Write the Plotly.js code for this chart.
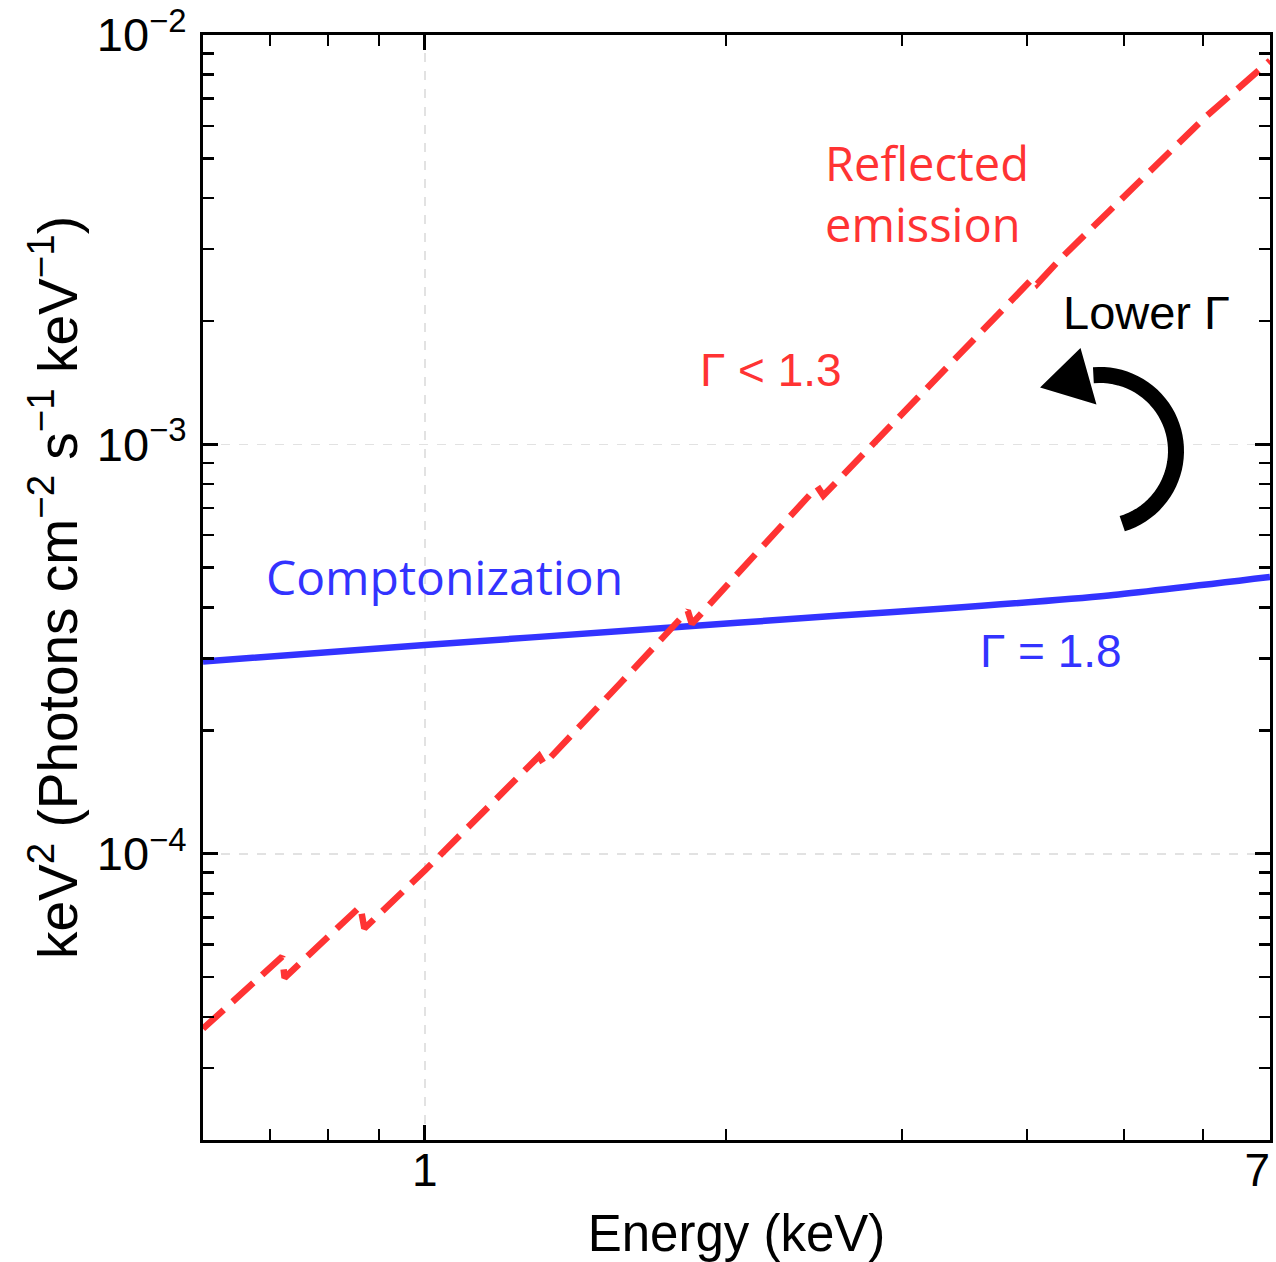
<!DOCTYPE html>
<html>
<head>
<meta charset="utf-8">
<script src="https://cdn.plot.ly/plotly-3.0.1.min.js"></script>
<style>html,body{margin:0;padding:0;background:#fff;}#chart{width:1276px;height:1262px;}</style>
</head>
<body>
<div id="chart"></div>
<script>
// ---- data ----
const energyComp = [0.6, 1.0, 1.64, 2.60, 3.28, 4.83, 7.0];
const fluxComp   = [2.948e-4, 3.238e-4, 3.525e-4, 3.82e-4, 3.968e-4, 4.277e-4, 4.745e-4];

const energyRefl = [0.600, 0.720, 0.724, 0.862, 0.870, 1.000, 1.301, 1.316, 1.573, 1.832, 1.849, 2.000, 2.469, 2.503, 2.790, 3.373, 4.057, 4.095, 4.328, 6.023, 7.000];
const fluxRefl   = [3.74e-5, 5.61e-5, 4.98e-5, 7.44e-5, 6.57e-5, 9.11e-5, 1.733e-4, 1.656e-4, 2.63e-4, 3.924e-4, 3.645e-4, 4.49e-4, 7.89e-4, 7.50e-4, 9.89e-4, 1.596e-3, 2.549e-3, 2.464e-3, 2.852e-3, 6.28e-3, 8.66e-3];

const xTickVals = [1, 7];
const xTickText = ['1', '7\u00a0\u00a0'];
const xMinorVals = [0.7, 0.8, 0.9, 2, 3, 4, 5, 6];
const yTickVals = [1e-4, 1e-3, 1e-2];
const yTickText = ['10<sup>\u22124</sup>', '10<sup>\u22123</sup>', '10<sup>\u22122</sup>'];

// ---- layout geometry ----
const W = 1276, H = 1262;
const M = {l: 203, r: 6, t: 35, b: 122};
const PW = W - M.l - M.r, PH = H - M.t - M.b;
const px2x = p => (p - M.l) / PW;
const px2y = p => 1 - (p - M.t) / PH;

const yMinor = [];
[1e-5, 1e-4, 1e-3].forEach(d => { for (let k = 2; k <= 9; k++) { const v = k * d; if (v >= 2e-5) yMinor.push(v); } });

const SANS = 'Liberation Sans, Arial, Helvetica, sans-serif';
const OPEN = 'Open Sans, Noto Sans, sans-serif';

// curved arrow (decoration) built in pixel space then converted to paper coords
const cx = 1100, cy = 451, r = 76;
let arc = '';
for (let a = 73; a >= -97; a -= 4) {
  const t = a * Math.PI / 180;
  const X = px2x(cx + r * Math.cos(t)), Y = px2y(cy + r * Math.sin(t));
  arc += (arc ? ' L ' : 'M ') + X.toFixed(5) + ',' + Y.toFixed(5);
}
const head = 'M ' + px2x(1042).toFixed(5) + ',' + px2y(387).toFixed(5) +
             ' L ' + px2x(1080).toFixed(5) + ',' + px2y(350).toFixed(5) +
             ' L ' + px2x(1095).toFixed(5) + ',' + px2y(403).toFixed(5) + ' Z';

const traces = [
  {x: energyComp, y: fluxComp, type: 'scatter', mode: 'lines', name: 'Comptonization',
   line: {color: '#3333ff', width: 6.5, shape: 'spline', smoothing: 0.6}, hoverinfo: 'skip'},
  {x: energyRefl, y: fluxRefl, type: 'scatter', mode: 'lines', name: 'Reflected emission',
   line: {color: '#ff3333', width: 6.5, dash: '28px,12px'}, hoverinfo: 'skip'}
];

const axisCommon = {
  type: 'log', ticks: 'inside', ticklen: 15, tickwidth: 3, tickcolor: 'black',
  showline: true, linewidth: 3, linecolor: 'black', mirror: 'allticks',
  showgrid: true, gridcolor: '#e2e2e2', griddash: 'dash', gridwidth: 1.6,
  zeroline: false, tickmode: 'array', ticklabeloverflow: 'allow'
};

const layout = {
  width: W, height: H,
  margin: {l: M.l, r: M.r, t: M.t, b: M.b, pad: 0},
  paper_bgcolor: 'white', plot_bgcolor: 'white',
  showlegend: false,
  xaxis: Object.assign({}, axisCommon, {
    range: [Math.log10(0.6), Math.log10(7.0005)],
    tickvals: xTickVals, ticktext: xTickText,
    tickfont: {family: SANS, size: 46, color: 'black'},
    ticklabelstandoff: -12,
    minor: {tickmode: 'array', tickvals: xMinorVals, ticks: 'inside', ticklen: 11, tickwidth: 2.5, tickcolor: 'black', showgrid: false},
    title: {text: 'Energy (keV)', font: {family: SANS, size: 51, color: 'black'}, standoff: 32}
  }),
  yaxis: Object.assign({}, axisCommon, {
    range: [Math.log10(2e-5), -2],
    tickvals: yTickVals, ticktext: yTickText,
    tickfont: {family: SANS, size: 47, color: 'black'},
    ticklabelstandoff: 4,
    minor: {tickmode: 'array', tickvals: yMinor, ticks: 'inside', ticklen: 11, tickwidth: 2.5, tickcolor: 'black', showgrid: false},
    title: {text: 'keV<sup>2</sup> (Photons cm<sup>\u22122</sup> s<sup>\u22121</sup> keV<sup>\u22121</sup>)',
            font: {family: SANS, size: 55, color: 'black'}, standoff: 2}
  }),
  shapes: [
    {type: 'path', xref: 'paper', yref: 'paper', path: arc, line: {color: 'black', width: 16}, fillcolor: 'rgba(0,0,0,0)'},
    {type: 'path', xref: 'paper', yref: 'paper', path: head, line: {color: 'black', width: 2}, fillcolor: 'black'}
  ],
  annotations: [
    {xref: 'paper', yref: 'paper', x: px2x(823), y: px2y(194), xanchor: 'left', yanchor: 'middle', align: 'left',
     text: 'Reflected<br>emission', showarrow: false, font: {family: OPEN, size: 47, color: '#ff3333'}},
    {xref: 'paper', yref: 'paper', x: px2x(444), y: px2y(576), xanchor: 'center', yanchor: 'middle',
     text: 'Comptonization', showarrow: false, font: {family: OPEN, size: 48, color: '#3333ff'}},
    {xref: 'paper', yref: 'paper', x: px2x(771), y: px2y(370), xanchor: 'center', yanchor: 'middle',
     text: '\u0393 < 1.3', showarrow: false, font: {family: SANS, size: 46, color: '#ff3333'}},
    {xref: 'paper', yref: 'paper', x: px2x(1051), y: px2y(651), xanchor: 'center', yanchor: 'middle',
     text: '\u0393 = 1.8', showarrow: false, font: {family: SANS, size: 46, color: '#3333ff'}},
    {xref: 'paper', yref: 'paper', x: px2x(1146), y: px2y(312), xanchor: 'center', yanchor: 'middle',
     text: 'Lower \u0393', showarrow: false, font: {family: SANS, size: 47, color: 'black'}}
  ]
};

Plotly.newPlot('chart', traces, layout, {displayModeBar: false, staticPlot: true});
</script>
</body>
</html>
